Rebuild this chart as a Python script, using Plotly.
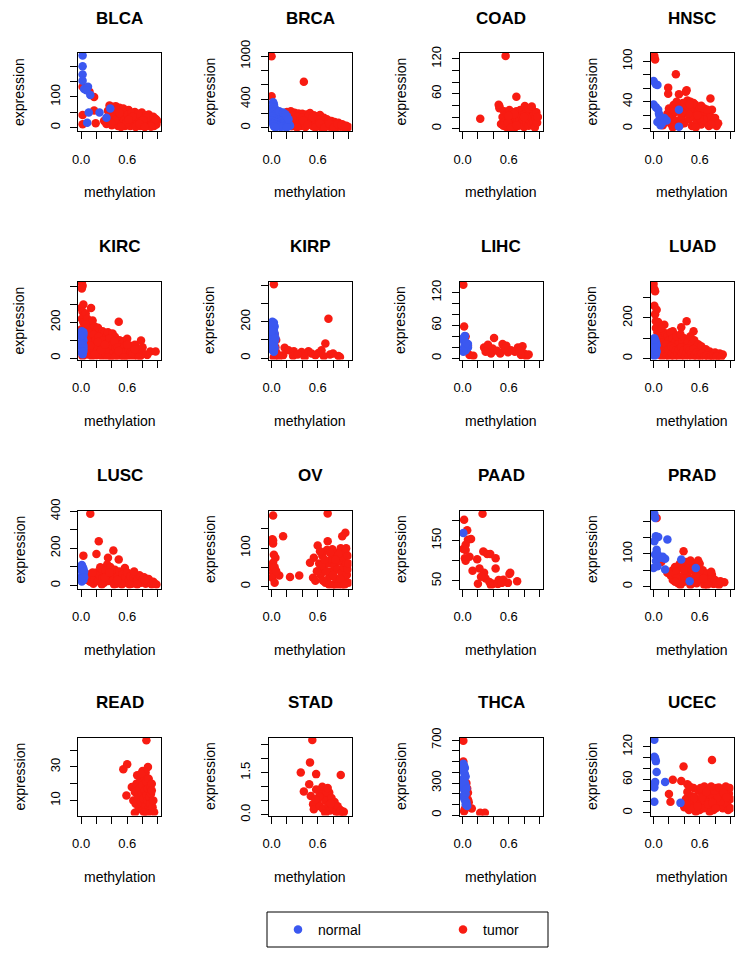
import plotly.graph_objects as go

# ---------------- data (methylation, expression) ----------------
CANCERS = ["BLCA", "BRCA", "COAD", "HNSC", "KIRC", "KIRP", "LIHC", "LUAD",
           "LUSC", "OV", "PAAD", "PRAD", "READ", "STAD", "THCA", "UCEC"]

BLCA_NORMAL = [(0.02,235),(0.02,200),(0.02,173),(0.02,153),(0.04,126),(0.09,133),(0.07,122),(0.12,106),
               (0.1,49),(0.08,16),(0.24,49),(0.33,32),(0.38,62)]
BLCA_TUMOR = [(0.02,133),(0.11,117),(0.17,100),(0.02,41),(0.02,11),(0.17,56),(0.19,14),
              (0.37,72),(0.4,68),(0.45,70),(0.5,65),(0.55,62),(0.62,57),(0.7,51),(0.79,49),(0.88,43),(0.97,27),
              (0.3,22),(0.33,12),(0.36,40),(0.38,25),(0.4,8),(0.42,50),(0.43,32),(0.45,18),(0.47,45),(0.48,5),
              (0.5,28),(0.52,38),(0.53,12),(0.55,50),(0.56,22),(0.58,35),(0.6,8),(0.61,42),(0.63,18),(0.65,30),
              (0.66,48),(0.68,10),(0.7,25),(0.72,38),(0.73,15),(0.75,30),(0.77,5),(0.78,20),(0.8,35),(0.82,12),
              (0.84,28),(0.85,40),(0.87,8),(0.88,20),(0.9,30),(0.92,14),(0.93,25),(0.95,5),(0.96,18),(0.98,10),
              (0.99,22),(0.4,40),(0.46,58),(0.57,5),(0.64,5),(0.74,45),(0.86,33),(0.91,3),(0.35,55),(0.44,25),
              (0.5,48),(0.59,15),(0.67,36),(0.71,2),(0.81,24),(0.94,35),(0.39,15),(0.52,2),(0.62,26),(0.76,12),
              (0.83,2),(0.97,28)]

BRCA_NORMAL = [(0.02,358),(0.03,330),(0.02,300),(0.04,280),(0.01,260),(0.05,250),(0.03,230),(0.07,220),
               (0.01,210),(0.06,200),(0.1,195),(0.13,185),(0.15,180),(0.04,180),(0.08,170),(0.11,160),(0.02,160),
               (0.06,150),(0.14,150),(0.17,140),(0.09,140),(0.03,130),(0.12,125),(0.19,120),(0.05,115),(0.16,110),
               (0.08,105),(0.01,100),(0.13,95),(0.21,90),(0.1,85),(0.04,80),(0.18,75),(0.07,70),(0.15,65),
               (0.22,60),(0.02,55),(0.11,50),(0.19,45),(0.06,40),(0.14,35),(0.24,30),(0.09,25),(0.03,20),
               (0.17,15),(0.12,10),(0.05,5),(0.2,8),(0.1,230),(0.15,215),(0.18,190),(0.2,160),(0.22,120)]
BRCA_TUMOR = [(0.0,1000),(0.42,642),(0.0,442),
              (0.2,220),(0.25,232),(0.3,210),(0.35,200),(0.4,195),(0.45,185),(0.5,205),(0.55,175),(0.6,160),
              (0.63,180),(0.68,140),(0.72,120),(0.78,95),(0.82,80),(0.87,70),(0.92,50),(0.97,30),(1.0,10),
              (0.22,150),(0.24,80),(0.26,20),(0.28,170),(0.3,110),(0.32,50),(0.34,150),(0.36,90),(0.38,25),
              (0.4,140),(0.42,70),(0.44,10),(0.46,120),(0.48,160),(0.5,60),(0.52,110),(0.54,20),(0.56,130),
              (0.58,80),(0.6,40),(0.62,110),(0.64,10),(0.66,70),(0.68,100),(0.7,30),(0.72,60),(0.74,90),
              (0.76,15),(0.78,50),(0.8,25),(0.83,45),(0.85,10),(0.88,35),(0.9,15),(0.93,25),(0.95,5),(0.98,12),
              (0.18,100),(0.2,40),(0.16,180),(0.27,120),(0.33,5),(0.41,100),(0.47,40),(0.53,150),(0.57,5),
              (0.63,60),(0.69,5),(0.75,55),(0.81,5),(0.86,50),(0.91,40),(0.96,20),(0.05,150),(0.03,60)]

COAD_NORMAL = []
COAD_TUMOR = [(0.56,125),(0.23,17),(0.48,38),(0.48,35),(0.47,41),(0.7,55),(0.81,39),(0.84,35),
              (0.5,8),(0.52,20),(0.54,30),(0.55,12),(0.57,3),(0.58,25),(0.6,15),(0.61,32),(0.62,6),(0.64,20),
              (0.65,28),(0.66,10),(0.68,2),(0.69,18),(0.7,30),(0.71,12),(0.72,24),(0.73,5),(0.74,16),(0.75,32),
              (0.76,8),(0.77,22),(0.78,28),(0.79,14),(0.8,3),(0.81,26),(0.82,18),(0.83,10),(0.84,30),(0.85,22),
              (0.86,5),(0.87,15),(0.88,28),(0.89,20),(0.9,8),(0.91,32),(0.92,12),(0.93,25),(0.94,2),(0.95,18),
              (0.96,28),(0.97,10),(0.98,20),(0.53,5),(0.59,10),(0.63,2),(0.67,25),(0.86,35),(0.9,38),(0.6,22),
              (0.8,20),(0.7,6)]

HNSC_NORMAL = [(0.0,71),(0.03,66),(0.05,65),(0.0,36),(0.03,32),(0.06,28),(0.07,22),(0.1,15),(0.05,10),
               (0.09,5),(0.14,16),(0.17,12),(0.33,28),(0.33,3),(0.11,8),(0.08,18)]
HNSC_TUMOR = [(0.01,108),(0.02,103),(0.29,81),(0.19,61),(0.19,52),(0.43,57),(0.42,55),(0.33,51),(0.74,45),
              (0.44,42),(0.12,5),(0.15,12),(0.18,22),(0.2,30),(0.22,8),(0.24,18),(0.26,35),(0.28,12),(0.3,25),
              (0.32,4),(0.34,30),(0.36,16),(0.38,38),(0.4,8),(0.42,24),(0.44,34),(0.46,14),(0.48,40),(0.5,4),
              (0.5,28),(0.52,18),(0.54,36),(0.56,10),(0.58,26),(0.6,32),(0.62,6),(0.64,20),(0.66,30),(0.68,12),
              (0.7,24),(0.72,4),(0.74,18),(0.76,28),(0.78,10),(0.8,16),(0.82,4),(0.84,8),(0.25,2),(0.35,6),
              (0.45,22),(0.55,2),(0.65,14),(0.75,6),(0.4,30),(0.3,40),(0.6,16),(0.52,38),(0.47,36),(0.62,34),
              (0.7,28),(0.2,16),(0.27,26),(0.57,20),(0.37,24)]

KIRC_NORMAL = [(0.01,150),(0.02,140),(0.03,130),(0.01,120),(0.02,110),(0.03,100),(0.01,90),(0.02,80),
               (0.03,70),(0.01,60),(0.02,50),(0.03,40),(0.01,30),(0.02,22),(0.03,145),(0.0,125),(0.0,75),
               (0.03,55),(0.02,35)]
KIRC_TUMOR = [(0.01,421),(0.02,405),(0.01,390),(0.03,300),(0.0,280),(0.02,260),(0.04,240),(0.01,220),
              (0.03,200),(0.05,180),(0.0,160),(0.02,10),(0.04,20),(0.13,281),(0.49,204),(0.9,37),(0.97,37),
              (0.86,17),(0.06,250),(0.08,220),(0.1,190),(0.12,160),(0.15,210),(0.18,175),(0.2,150),(0.22,170),
              (0.25,130),(0.28,150),(0.3,140),(0.33,120),(0.35,145),(0.38,110),(0.41,137),(0.44,120),(0.47,90),
              (0.5,100),(0.53,80),(0.56,95),(0.6,108),(0.63,70),(0.66,60),(0.7,75),(0.73,55),(0.76,45),
              (0.78,98),(0.8,30),(0.06,120),(0.07,60),(0.08,20),(0.09,150),(0.1,90),(0.11,40),(0.13,110),
              (0.14,10),(0.15,70),(0.16,130),(0.17,40),(0.19,100),(0.2,15),(0.21,60),(0.23,120),(0.24,30),
              (0.26,80),(0.27,10),(0.29,100),(0.3,50),(0.32,20),(0.34,80),(0.36,40),(0.37,110),(0.39,10),
              (0.4,70),(0.42,30),(0.43,95),(0.45,55),(0.46,15),(0.48,60),(0.5,30),(0.52,10),(0.54,50),(0.55,20),
              (0.57,65),(0.58,35),(0.6,5),(0.62,45),(0.64,20),(0.65,40),(0.68,10),(0.69,35),(0.72,20),(0.74,30),
              (0.77,10),(0.8,60),(0.06,190),(0.08,100),(0.12,70),(0.18,20),(0.22,90),(0.26,45),(0.31,75),
              (0.35,5),(0.44,5),(0.49,40),(0.56,5),(0.6,75),(0.67,25),(0.7,50),(0.75,5)]

KIRP_NORMAL = [(0.01,200),(0.03,195),(0.02,185),(0.04,175),(0.01,165),(0.03,155),(0.02,145),(0.04,135),
               (0.01,125),(0.03,115),(0.02,105),(0.04,95),(0.01,85),(0.03,75),(0.02,65),(0.04,55),(0.01,45),
               (0.03,35),(0.02,180),(0.0,150),(0.05,110),(0.0,70)]
KIRP_TUMOR = [(0.03,408),(0.74,217),(0.7,81),(0.07,25),(0.17,57),(0.22,43),(0.29,38),(0.39,34),(0.48,38),
              (0.52,25),(0.61,28),(0.65,43),(0.76,19),(0.8,25),(0.87,11),(0.15,15),(0.28,11),(0.43,6),
              (0.57,15),(0.89,6),(0.1,8),(0.34,20),(0.68,10),(0.05,60),(0.04,130),(0.06,100),(0.03,5),(0.05,40)]

LIHC_NORMAL = [(0.01,37),(0.02,31),(0.03,25),(0.04,15),(0.07,20),(0.01,12),(0.07,26),(0.03,41),(0.02,20),
               (0.05,28)]
LIHC_TUMOR = [(0.01,134),(0.02,58),(0.04,40),(0.07,23),(0.09,6),(0.14,5),(0.28,20),(0.35,15),(0.41,37),
              (0.39,18),(0.37,9),(0.52,26),(0.57,23),(0.49,9),(0.63,15),(0.59,11),(0.72,20),(0.78,22),(0.8,9),
              (0.83,4),(0.76,6),(0.86,7),(0.33,25),(0.3,12),(0.45,14),(0.55,18),(0.68,12),(0.74,14),(0.05,15)]

LUAD_NORMAL = [(0.01,100),(0.02,90),(0.03,80),(0.01,70),(0.02,60),(0.03,50),(0.01,40),(0.02,30),(0.03,20),
               (0.01,12),(0.04,65),(0.04,35),(0.0,85),(0.0,55)]
LUAD_TUMOR = [(0.0,368),(0.01,343),(0.02,332),(0.01,260),(0.02,218),(0.03,184),(0.14,167),(0.43,184),
              (0.36,154),(0.52,134),(0.25,134),(0.03,150),(0.05,130),(0.06,110),(0.08,120),(0.1,100),(0.12,80),
              (0.15,125),(0.18,110),(0.2,90),(0.22,130),(0.25,100),(0.28,80),(0.3,110),(0.32,70),(0.35,120),
              (0.38,90),(0.4,100),(0.42,60),(0.45,85),(0.48,110),(0.5,70),(0.53,90),(0.55,50),(0.58,70),
              (0.6,40),(0.62,60),(0.65,30),(0.68,45),(0.7,25),(0.73,35),(0.76,20),(0.8,30),(0.83,15),(0.86,25),
              (0.88,10),(0.9,20),(0.05,60),(0.07,20),(0.09,50),(0.11,10),(0.13,40),(0.16,70),(0.17,15),
              (0.19,45),(0.21,5),(0.23,60),(0.24,25),(0.26,50),(0.27,10),(0.29,40),(0.31,20),(0.33,45),(0.34,5),
              (0.36,55),(0.37,25),(0.39,40),(0.41,10),(0.43,30),(0.44,50),(0.46,15),(0.47,40),(0.49,25),
              (0.51,5),(0.52,45),(0.54,20),(0.56,30),(0.57,5),(0.59,20),(0.61,10),(0.63,25),(0.66,10),
              (0.69,15),(0.72,5),(0.75,10),(0.78,5),(0.82,8),(0.87,3),(0.06,180),(0.04,240),(0.1,150)]

LUSC_NORMAL = [(0.01,110),(0.02,100),(0.03,90),(0.01,80),(0.02,70),(0.03,60),(0.01,50),(0.02,40),(0.03,30),
               (0.01,22),(0.0,95),(0.04,75),(0.04,45),(0.0,35)]
LUSC_TUMOR = [(0.12,387),(0.23,239),(0.2,170),(0.42,188),(0.03,161),(0.35,149),(0.25,99),(0.49,140),
              (0.57,95),(0.34,113),(0.06,50),(0.08,30),(0.1,60),(0.12,20),(0.14,45),(0.16,10),(0.18,35),
              (0.2,70),(0.22,25),(0.24,55),(0.26,90),(0.28,40),(0.3,15),(0.32,80),(0.34,50),(0.36,25),
              (0.38,100),(0.4,60),(0.42,30),(0.44,85),(0.46,10),(0.48,50),(0.5,75),(0.52,35),(0.54,60),
              (0.56,15),(0.58,45),(0.6,70),(0.62,25),(0.64,50),(0.66,10),(0.68,40),(0.7,60),(0.72,20),
              (0.74,35),(0.76,55),(0.78,15),(0.8,30),(0.82,45),(0.84,10),(0.86,25),(0.88,35),(0.9,15),(0.92,5),
              (0.94,20),(0.96,10),(0.98,5),(0.31,45),(0.43,5),(0.53,5),(0.63,5),(0.73,5),(0.83,30),(0.15,70),
              (0.27,5),(0.37,70),(0.47,30),(0.69,75)]

OV_NORMAL = []
OV_TUMOR = [(0.02,185),(0.01,123),(0.02,112),(0.15,131),(0.03,83),(0.05,75),(0.02,62),(0.0,49),(0.02,36),
            (0.01,23),(0.04,10),(0.1,29),(0.24,25),(0.36,29),(0.73,190),(0.73,118),(0.6,107),(0.55,75),
            (0.54,23),(0.5,62),(0.96,140),(0.92,131),(0.04,50),(0.06,40),(0.02,120),(0.62,60),(0.64,30),
            (0.66,80),(0.68,45),(0.7,10),(0.72,95),(0.74,60),(0.75,25),(0.77,70),(0.78,40),(0.8,5),(0.81,90),
            (0.82,55),(0.84,20),(0.85,80),(0.86,45),(0.88,10),(0.89,65),(0.9,100),(0.91,35),(0.92,5),
            (0.93,75),(0.94,50),(0.95,20),(0.96,90),(0.97,60),(0.98,30),(0.99,80),(1.0,10),(0.99,45),
            (0.97,100),(0.87,85),(0.83,70),(0.79,97),(0.76,88),(0.71,40),(0.67,15),(0.65,55),(0.69,70),
            (0.8,30),(0.9,20),(1.0,60),(0.95,5),(0.85,0),(0.75,5),(0.59,40),(0.57,15),(0.63,92)]

PAAD_NORMAL = [(0.01,169)]
PAAD_TUMOR = [(0.02,202),(0.26,217),(0.06,176),(0.11,154),(0.07,152),(0.04,140),(0.01,129),(0.03,106),
              (0.04,100),(0.13,75),(0.19,104),(0.27,123),(0.32,117),(0.36,117),(0.43,106),(0.43,81),(0.22,81),
              (0.28,70),(0.2,43),(0.3,56),(0.35,47),(0.4,43),(0.47,52),(0.53,53),(0.61,67),(0.59,45),
              (0.71,49),(0.37,39),(0.46,42),(0.51,45),(0.24,60),(0.04,127),(0.09,110),(0.62,70)]

PRAD_NORMAL = [(0.01,223),(0.02,210),(0.03,154),(0.06,152),(0.01,139),(0.04,113),(0.02,98),(0.07,91),
               (0.12,91),(0.15,85),(0.03,78),(0.05,62),(0.18,144),(0.15,52),(0.36,83),(0.55,57),(0.47,16),
               (0.0,57),(0.1,88),(0.05,100)]
PRAD_TUMOR = [(0.04,210),(0.39,108),(0.18,42),(0.25,50),(0.1,75),(0.22,35),(0.25,20),(0.28,60),(0.3,45),
              (0.32,10),(0.34,70),(0.36,30),(0.38,55),(0.4,15),(0.42,75),(0.44,40),(0.46,60),(0.48,5),
              (0.5,25),(0.52,70),(0.54,45),(0.56,10),(0.58,60),(0.6,35),(0.62,20),(0.64,50),(0.66,5),
              (0.68,30),(0.7,40),(0.72,15),(0.74,25),(0.76,35),(0.78,8),(0.8,20),(0.82,12),(0.87,16),
              (0.92,13),(0.3,25),(0.4,50),(0.5,50),(0.6,70),(0.7,5),(0.45,20),(0.55,30),(0.65,25),(0.35,5),
              (0.75,45),(0.85,5),(0.28,15),(0.48,80),(0.58,80)]

READ_NORMAL = []
READ_TUMOR = [(0.85,46),(0.55,28.6),(0.6,31.6),(0.87,30),(0.59,13),(0.7,2.6),(0.8,27.6),(0.84,26.6),
              (0.66,18),(0.68,10),(0.7,15),(0.71,8),(0.72,20),(0.74,12),(0.75,5),(0.76,17),(0.77,22),
              (0.78,9),(0.79,14),(0.8,19),(0.8,4),(0.81,11),(0.82,24),(0.83,16),(0.84,7),(0.85,13),(0.85,21),
              (0.86,10),(0.87,17),(0.88,5),(0.88,23),(0.89,12),(0.9,18),(0.9,8),(0.91,14),(0.92,20),(0.93,6),
              (0.94,10),(0.95,3),(0.82,3),(0.73,25),(0.78,26),(0.92,16),(0.86,2)]

STAD_NORMAL = []
STAD_TUMOR = [(0.53,2.67),(0.5,1.87),(0.38,1.51),(0.58,1.45),(0.9,1.42),(0.49,1.09),(0.42,0.83),
              (0.51,0.67),(0.54,0.37),(0.55,0.19),(0.62,0.87),(0.68,0.91),(0.75,0.79),(0.73,0.61),
              (0.79,0.49),(0.83,0.31),(0.92,0.11),(0.88,0.19),(0.6,0.5),(0.63,0.3),(0.65,0.7),(0.67,0.2),
              (0.7,0.5),(0.72,0.8),(0.74,0.35),(0.76,0.15),(0.78,0.6),(0.8,0.25),(0.82,0.45),(0.84,0.1),
              (0.86,0.3),(0.88,0.05),(0.9,0.15),(0.93,0.05),(0.7,0.05),(0.62,0.65),(0.57,0.55),(0.66,1.0),
              (0.73,0.95),(0.58,0.9),(0.77,0.4),(0.94,0.1)]

THCA_NORMAL = [(0.01,480),(0.02,460),(0.03,440),(0.01,420),(0.02,400),(0.03,380),(0.04,360),(0.01,340),
               (0.02,320),(0.03,300),(0.04,280),(0.01,260),(0.02,240),(0.03,220),(0.04,200),(0.01,180),
               (0.02,160),(0.03,140),(0.05,120),(0.04,100),(0.06,85),(0.0,450),(0.0,300),(0.05,250)]
THCA_TUMOR = [(0.01,694),(0.01,500),(0.12,62),(0.23,22),(0.29,22),(0.02,37),(0.07,209),(0.07,147),
              (0.05,300),(0.06,250),(0.03,60),(0.08,120),(0.06,80)]

UCEC_NORMAL = [(0.01,133),(0.01,102),(0.02,99),(0.03,94),(0.04,74),(0.02,56),(0.01,52),(0.01,46),(0.01,20),
               (0.15,56),(0.35,18)]
UCEC_TUMOR = [(0.76,96),(0.39,84),(0.25,60),(0.36,58),(0.2,34),(0.22,20),(0.44,52),(0.4,10),(0.42,25),
              (0.44,38),(0.46,5),(0.48,18),(0.5,30),(0.52,45),(0.54,12),(0.56,25),(0.58,40),(0.6,5),(0.62,20),
              (0.64,35),(0.66,48),(0.68,10),(0.7,28),(0.72,42),(0.74,15),(0.76,32),(0.78,5),(0.8,22),(0.82,45),
              (0.84,12),(0.86,30),(0.88,40),(0.9,8),(0.92,22),(0.94,48),(0.96,15),(0.98,35),(1.0,25),(0.99,45),
              (0.97,5),(0.93,35),(0.87,20),(0.83,28),(0.79,40),(0.73,2),(0.67,20),(0.61,45),(0.55,2),(0.49,8),
              (0.43,15),(0.47,48),(0.53,28),(0.65,8),(0.71,15),(0.77,18),(0.81,8),(0.85,46),(0.91,36),(0.95,28),
              (1.0,8),(0.57,12),(0.63,28),(0.69,38),(0.75,48)]

NORMAL = {"BLCA": BLCA_NORMAL, "BRCA": BRCA_NORMAL, "COAD": COAD_NORMAL, "HNSC": HNSC_NORMAL,
          "KIRC": KIRC_NORMAL, "KIRP": KIRP_NORMAL, "LIHC": LIHC_NORMAL, "LUAD": LUAD_NORMAL,
          "LUSC": LUSC_NORMAL, "OV": OV_NORMAL, "PAAD": PAAD_NORMAL, "PRAD": PRAD_NORMAL,
          "READ": READ_NORMAL, "STAD": STAD_NORMAL, "THCA": THCA_NORMAL, "UCEC": UCEC_NORMAL}
TUMOR = {"BLCA": BLCA_TUMOR, "BRCA": BRCA_TUMOR, "COAD": COAD_TUMOR, "HNSC": HNSC_TUMOR,
         "KIRC": KIRC_TUMOR, "KIRP": KIRP_TUMOR, "LIHC": LIHC_TUMOR, "LUAD": LUAD_TUMOR,
         "LUSC": LUSC_TUMOR, "OV": OV_TUMOR, "PAAD": PAAD_TUMOR, "PRAD": PRAD_TUMOR,
         "READ": READ_TUMOR, "STAD": STAD_TUMOR, "THCA": THCA_TUMOR, "UCEC": UCEC_TUMOR}

# y tick values / labels per panel
Y_TICKS = {
    "BLCA": ([0, 50, 100, 150, 200], ["0", "", "100", "", ""]),
    "BRCA": ([0, 200, 400, 600, 800, 1000], ["0", "", "400", "", "", "1000"]),
    "COAD": ([0, 20, 40, 60, 80, 100, 120], ["0", "", "", "60", "", "", "120"]),
    "HNSC": ([0, 20, 40, 60, 80, 100], ["0", "", "40", "", "", "100"]),
    "KIRC": ([0, 100, 200, 300, 400], ["0", "", "200", "", ""]),
    "KIRP": ([0, 100, 200, 300, 400], ["0", "", "200", "", ""]),
    "LIHC": ([0, 20, 40, 60, 80, 100, 120], ["0", "", "", "60", "", "", "120"]),
    "LUAD": ([0, 100, 200, 300], ["0", "", "200", ""]),
    "LUSC": ([0, 100, 200, 300, 400], ["0", "", "200", "", "400"]),
    "OV": ([0, 50, 100, 150], ["0", "", "100", ""]),
    "PAAD": ([50, 100, 150, 200], ["50", "", "150", ""]),
    "PRAD": ([0, 50, 100, 150, 200], ["0", "", "100", "", ""]),
    "READ": ([10, 20, 30, 40], ["10", "", "30", ""]),
    "STAD": ([0, 0.5, 1.0, 1.5, 2.0, 2.5], ["0.0", "", "", "1.5", "", ""]),
    "THCA": ([0, 100, 200, 300, 400, 500, 600, 700], ["0", "", "", "300", "", "", "", "700"]),
    "UCEC": ([0, 20, 40, 60, 80, 100, 120], ["0", "", "", "60", "", "", "120"]),
}
Y_RANGE = {"BLCA": [-11, 243], "BRCA": [-45, 1045], "COAD": [-4, 130], "HNSC": [-3.5, 112.5],
           "KIRC": [-8, 429], "KIRP": [-8, 423], "LIHC": [-2, 140], "LUAD": [-5, 380],
           "LUSC": [-16, 404], "OV": [-5, 198], "PAAD": [31, 225], "PRAD": [-6, 233],
           "READ": [1, 47.6], "STAD": [-0.03, 2.76], "THCA": [-3, 725], "UCEC": [-5, 137]}
X_TICKS = [0, 0.2, 0.4, 0.6, 0.8, 1.0]
X_LABELS = ["0.0", "", "", "0.6", "", ""]

# ---------------- layout geometry (pixels) ----------------
W, H = 750, 963
COL_LEFT = [78, 268.5, 459.5, 650.5]
ROW_TOP = [53, 281.5, 510.5, 737.5]
BOX_W, BOX_H = 83, 78
RED = "#F81C12"
BLUE = "#3B58F0"
FONT = "Liberation Sans, Arial, Helvetica, sans-serif"

fig = go.Figure()
annotations = []
layout_axes = {}

for i, name in enumerate(CANCERS):
    r, c = divmod(i, 4)
    left, top = COL_LEFT[c], ROW_TOP[r]
    xd = [left / W, (left + BOX_W) / W]
    yd = [1 - (top + BOX_H) / H, 1 - top / H]
    sfx = "" if i == 0 else str(i + 1)
    xa, ya = "x" + sfx, "y" + sfx

    tum = TUMOR[name]
    nor = NORMAL[name]
    fig.add_trace(go.Scatter(
        x=[p[0] for p in tum], y=[p[1] for p in tum], mode="markers", name="tumor",
        marker=dict(color=RED, size=8.5, line=dict(width=0)), xaxis=xa, yaxis=ya,
        legendgroup="tumor", showlegend=(i == 0), legendrank=2))
    fig.add_trace(go.Scatter(
        x=[p[0] for p in nor], y=[p[1] for p in nor], mode="markers", name="normal",
        marker=dict(color=BLUE, size=8.5, line=dict(width=0)), xaxis=xa, yaxis=ya,
        legendgroup="normal", showlegend=(i == 0), legendrank=1))

    common = dict(showline=True, linecolor="black", linewidth=1, mirror=True, showgrid=False,
                  zeroline=False, ticks="outside", ticklen=7, tickwidth=1, tickcolor="black",
                  tickfont=dict(size=13, color="black", family=FONT), fixedrange=True,
                  automargin=False)
    layout_axes["xaxis" + sfx] = dict(domain=xd, anchor=ya, range=[-0.04, 1.04], tickmode="array",
                                      tickvals=X_TICKS, ticktext=X_LABELS, ticklabelstandoff=9,
                                      **common)
    tv, tt = Y_TICKS[name]
    layout_axes["yaxis" + sfx] = dict(domain=yd, anchor=xa, range=Y_RANGE[name], tickmode="array",
                                      tickvals=tv, ticktext=tt, tickangle=-90, ticklabelstandoff=5,
                                      **common)

    cx = (left + BOX_W / 2) / W
    annotations.append(dict(text="<b>%s</b>" % name, x=cx, y=1 - (top - 35) / H, xref="paper",
                            yref="paper", showarrow=False, xanchor="center", yanchor="middle",
                            font=dict(size=17, color="black", family=FONT)))
    annotations.append(dict(text="methylation", x=cx, y=1 - (top + BOX_H + 61) / H, xref="paper",
                            yref="paper", showarrow=False, xanchor="center", yanchor="middle",
                            font=dict(size=14, color="black", family=FONT)))
    annotations.append(dict(text="expression", x=(left - 59) / W, y=1 - (top + BOX_H / 2) / H,
                            xref="paper", yref="paper", showarrow=False, textangle=-90,
                            xanchor="center", yanchor="middle",
                            font=dict(size=14, color="black", family=FONT)))

fig.update_layout(
    template="none",
    width=W, height=H, margin=dict(l=0, r=0, t=0, b=0, pad=0, autoexpand=False),
    paper_bgcolor="white", plot_bgcolor="white",
    font=dict(family=FONT, color="black"),
    annotations=annotations,
    showlegend=True,
    legend=dict(orientation="h", x=278 / W, xanchor="left", y=1 - 930 / H, yanchor="middle",
                font=dict(size=14, color="black", family=FONT), bgcolor="rgba(0,0,0,0)",
                borderwidth=0, entrywidth=120, entrywidthmode="pixels", traceorder="normal"),
    shapes=[dict(type="rect", xref="paper", yref="paper", x0=267 / W, x1=548 / W,
                 y0=1 - 947 / H, y1=1 - 912 / H, line=dict(color="black", width=1))],
    **layout_axes,
)

fig.write_html("out.html", config={"displayModeBar": False},
               post_script="document.body.style.margin='0px';")
